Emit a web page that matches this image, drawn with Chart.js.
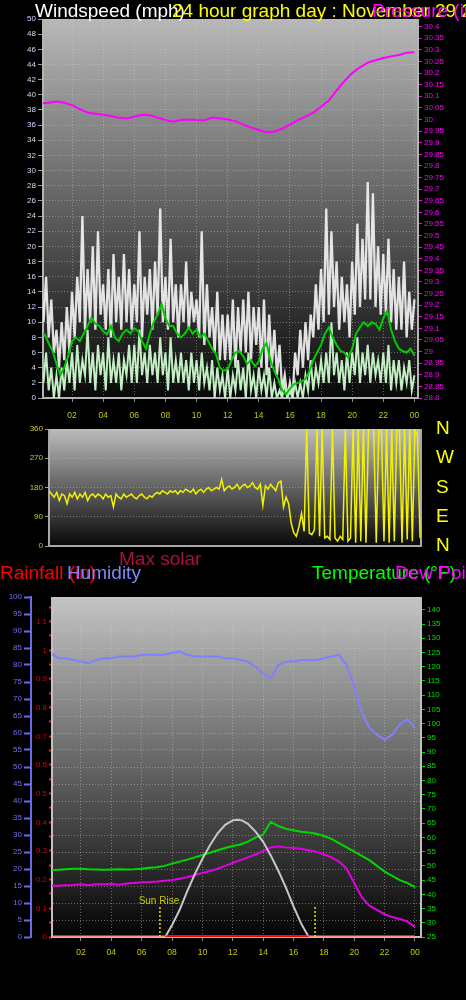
<!DOCTYPE html>
<html>
<head>
<meta charset="utf-8">
<script src="https://cdn.jsdelivr.net/npm/chart.js@4.4.1/dist/chart.umd.min.js"></script>
<style>
    body
    {
        margin: 0;
        width: 466px;
        height: 1000px;
        background: #000;
        position: relative;
        overflow: hidden;
        font-family: "Liberation Sans", Arial, sans-serif;
    }
    canvas { position: absolute; left: 0; }
    .title
    {
        position: absolute;
        font-size: 19px;
        line-height: 19px;
        white-space: nowrap;
    }
</style>
</head>
<body>
<canvas id="windChart" width="466" height="430" style="top:0px"></canvas>
<canvas id="dirChart" width="466" height="140" style="top:420px"></canvas>
<canvas id="climateChart" width="466" height="410" style="top:560px"></canvas>

<div class="title" style="left:35px; top:1px; color:#ffffff">Windspeed (mph)</div>
<div class="title" style="left:172px; top:1px; color:#ffff00">24 hour graph day : November 29 2012</div>
<div class="title" style="left:372px; top:1px; color:#ff00ff">Pressure (inHg)</div>
<div class="title" style="left:119px; top:549px; color:#a8103e">Max solar</div>
<div class="title" style="left:0px; top:563px; color:#ff0000">Rainfall (in)</div>
<div class="title" style="left:67px; top:563px; color:#8484ff">Humidity</div>
<div class="title" style="left:312px; top:563px; color:#00ff00">Temperature (°F)</div>
<div class="title" style="left:395px; top:563px; color:#ff00ff">Dew Point (°F)</div>

<script>
// ---- data ----

// x axis labels (hours), 24 is shown as 00
const hourTicks = [2, 4, 6, 8, 10, 12, 14, 16, 18, 20, 22, 24];

// wind gust, every 10 minutes from 00:00
const gustMph =
[
    15, 10, 16, 8, 13, 6,
    9, 4, 10, 5, 12, 6,
    14, 8, 16, 10, 24, 9,
    17, 10, 20, 9, 22, 11,
    15, 9, 17, 8, 19, 10,
    16, 9, 19, 10, 17, 9,
    15, 10, 22, 8, 16, 11,
    17, 9, 18, 11, 25, 10,
    16, 9, 21, 10, 15, 8,
    15, 10, 18, 9, 14, 10,
    13, 8, 22, 7, 15, 8,
    12, 6, 14, 5, 11, 5,
    11, 5, 13, 4, 12, 6,
    13, 6, 14, 5, 12, 7,
    12, 4, 13, 3, 11, 4,
    9, 3, 7, 1, 3, 0,
    2, 0, 6, 3, 9, 4,
    10, 5, 11, 8, 15, 9,
    17, 10, 25, 11, 22, 12,
    18, 9, 16, 10, 15, 8,
    18, 11, 23, 12, 21, 13,
    28.5, 13, 27, 12, 20, 11,
    19, 11, 21, 10, 17, 9,
    16, 9, 18, 8, 14, 9,
    13
];

// wind speed, every 10 minutes
const speedMph =
[
    5, 2, 6, 1, 4, 0,
    3, 0, 4, 1, 5, 2,
    6, 1, 7, 2, 5, 3,
    9, 2, 6, 1, 7, 3,
    6, 1, 8, 2, 5, 2,
    6, 1, 5, 3, 7, 2,
    7, 2, 9, 3, 6, 2,
    7, 3, 6, 2, 8, 3,
    6, 1, 8, 2, 5, 2,
    6, 2, 5, 1, 6, 2,
    5, 1, 6, 2, 4, 1,
    5, 0, 4, 1, 3, 0,
    4, 0, 3, 1, 5, 1,
    4, 0, 6, 1, 3, 0,
    4, 1, 3, 0, 4, 0,
    2, 0, 1, 0, 2, 0,
    1, 0, 2, 0, 2, 0,
    3, 1, 5, 1, 4, 2,
    5, 2, 6, 2, 10, 3,
    6, 2, 5, 1, 6, 2,
    6, 3, 8, 2, 6, 3,
    7, 2, 6, 3, 5, 2,
    6, 2, 7, 1, 5, 2,
    5, 1, 4, 2, 5, 1,
    3
];

// average wind, every 15 minutes
const avgMph =
[
    8.5, 8.4, 7.2, 6.2,
    4.5, 3.0, 4.0, 5.5,
    7.5, 8.0, 7.5, 8.5,
    9.5, 10.6, 9.8, 9.5,
    8.8, 8.4, 9.5, 8.0,
    7.5, 8.5, 9.0, 8.5,
    9.2, 8.8, 7.5, 6.5,
    8.5, 10.0, 11.0, 12.4,
    10.5, 9.5, 9.5, 8.5,
    8.0, 8.5, 9.3, 8.5,
    9.0, 8.0, 8.5, 7.5,
    6.5, 5.8, 4.0, 3.6,
    3.8, 5.0, 6.0, 6.2,
    5.5, 4.5, 5.0, 4.2,
    4.8, 6.5, 7.2, 5.0,
    3.5, 2.5, 1.0, 0.5,
    1.2, 1.8, 2.0, 2.2,
    2.5, 3.5, 5.0, 6.0,
    7.0, 8.5, 9.3, 8.0,
    7.0, 6.2, 6.0, 5.3,
    6.5, 8.5, 9.3, 10.0,
    9.5, 10.0, 9.8, 9.0,
    10.5, 11.5, 9.0, 7.5,
    6.5, 6.2, 6.0, 6.5,
    5.6
];

// barometer, every 30 minutes
const pressureInHg =
[
    30.07, 30.072, 30.078, 30.072, 30.062, 30.045, 30.03, 30.025,
    30.02, 30.015, 30.008, 30.004, 30.012, 30.02, 30.018, 30.008,
    29.998, 29.99, 29.998, 30.0, 29.998, 29.997, 30.008, 30.005,
    30.0, 29.993, 29.978, 29.966, 29.955, 29.945, 29.948, 29.96,
    29.978, 29.997, 30.012, 30.03, 30.055, 30.082, 30.125, 30.165,
    30.2, 30.225, 30.245, 30.255, 30.265, 30.272, 30.278, 30.288,
    30.29
];

// wind direction, every 10 minutes
const windDirDeg =
[
    170, 160, 150, 165, 140, 160,
    155, 130, 160, 150, 165, 145,
    160, 150, 165, 140, 155, 160,
    150, 160, 155, 145, 160, 150,
    155, 120, 160, 150, 145, 160,
    150, 155, 160, 150, 145, 155,
    160, 150, 145, 155, 150, 160,
    165, 160, 170, 165, 160, 170,
    165, 170, 160, 170, 165, 175,
    170, 165, 175, 160, 170, 175,
    165, 175, 180, 170, 175, 180,
    175, 205, 170, 180, 185, 175,
    180, 190, 175, 185, 190, 180,
    185, 195, 180, 175, 190, 125,
    185, 175, 190, 180, 170, 195,
    200, 120, 150, 130, 70, 40,
    30, 60, 100, 45, 360, 40,
    35, 50, 360, 30, 360, 25,
    30, 20, 360, 25, 15, 30,
    20, 360, 15, 25, 360, 10,
    360, 15, 360, 10, 360, 360,
    360, 10, 360, 360, 15, 360,
    10, 360, 15, 360, 360, 10,
    360, 20, 360, 15, 360, 340,
    25
];
const dirTickDeg = [0, 90, 180, 270, 360];
const dirTickLabels = ['N', 'E', 'S', 'W', 'N'];

// lower panel, every 30 minutes
const humidityPct =
[
    83.5, 82, 82, 81.5, 81, 80.5, 81.5, 82,
    82, 82.5, 82.5, 82.5, 83, 83, 83, 83,
    83.5, 84, 83, 82.5, 82.5, 82.5, 82.5, 82,
    82, 81.5, 81, 79.5, 77.5, 76, 80, 81,
    81, 81.5, 81.5, 81.5, 82, 82.5, 83, 80,
    74, 66, 61.5, 59.5, 58, 59.5, 62.5, 64,
    61.5
];
const temperatureF =
[
    48.5, 48.6, 48.8, 49, 49, 48.8, 48.7, 48.6,
    48.7, 48.8, 48.7, 48.8, 49, 49.3, 49.5, 50,
    50.8, 51.5, 52.2, 53, 53.8, 54.6, 55.5, 56.3,
    57, 57.5, 58.5, 60, 61, 65.5, 64, 63,
    62.5, 62, 61.7, 61.3, 60.5, 59.5, 58, 56.5,
    55, 53.5, 52, 50, 48, 46.5, 45, 44,
    42.5
];
const dewPointF =
[
    43, 43, 43.2, 43.3, 43.5, 43.2, 43.5, 43.5,
    43.6, 43.4, 43.8, 44, 44.2, 44.3, 44.5, 44.8,
    45, 45.5, 46, 46.8, 47.5, 48.2, 49, 50,
    51, 52, 53, 54, 55.2, 56.5, 56.8, 56.5,
    56.3, 56, 55.5, 55, 54, 53, 51.5, 49,
    44, 39, 36, 34.5, 33, 32, 31.3, 30.5,
    28.5
];
// hourly rainfall
const rainfallIn = [0, 0, 0, 0, 0, 0, 0, 0, 0, 0, 0, 0, 0, 0, 0, 0, 0, 0, 0, 0, 0, 0, 0, 0, 0];

// max solar curve (plotted on the humidity scale)
const solarHours = [7.55, 8, 8.5, 9, 9.5, 10, 10.5, 11, 11.5, 12, 12.3, 12.6, 13, 13.5, 14, 14.5, 15, 15.5, 16, 16.5, 17];
const solarLevel = [0, 3.5, 8, 13.5, 18.5, 23, 27, 30.5, 33, 34.3, 34.5, 34.3, 33.3, 31, 28, 24, 19.5, 14.5, 9, 4, 0];
// measured solar, flat at zero through daylight
const measuredSolarHours = [7.55, 17];
const measuredSolar = [0, 0];

const sunRiseSetHours = [7.2, 17.42];
const sunMarkerTop = 9;

// ---- helpers ----
const F = '"Liberation Sans", Arial, sans-serif';
const gridDot = 'rgba(205,205,205,0.45)';

function series(values, startHour, stepHours)
{
    return values.map((v, i) => ({ x: startHour + i * stepHours, y: v }));
}

function pairs(hours, values)
{
    return hours.map((h, i) => ({ x: h, y: values[i] }));
}

function hourLabel(v)
{
    let h = Math.round(v) % 24;
    return h < 10 ? '0' + h : '' + h;
}

function stepList(from, to, step)
{
    let out = [];
    for (let k = Math.round(from / step); k <= Math.round(to / step); k++)
    {
        out.push(+(k * step).toFixed(3));
    }
    return out;
}

function fixedTicks(values)
{
    return function(scale)
    {
        scale.ticks = values.map(v => ({ value: v }));
    };
}

// fix a scale's size and drop the label overhang padding so the plot lands where it should
function fitWidth(w)
{
    return function(s)
    {
        s.width = w;
        s.paddingTop = 0;
        s.paddingBottom = 0;
    };
}

function fitHeight(h)
{
    return function(s)
    {
        s.height = h;
        s.paddingLeft = 0;
        s.paddingRight = 0;
    };
}

// gradient plot area with light frame
const plotBackground =
{
    id: 'plotBackground',
    beforeDraw(chart, args, opts)
    {
        const a = chart.chartArea;
        const ctx = chart.ctx;
        const g = ctx.createLinearGradient(0, a.top, 0, a.bottom);
        g.addColorStop(0, opts.top);
        g.addColorStop(1, opts.bottom);
        ctx.save();
        ctx.fillStyle = g;
        ctx.fillRect(a.left, a.top, a.right - a.left, a.bottom - a.top);
        ctx.restore();
    },
    beforeDatasetsDraw(chart, args, opts)
    {
        const a = chart.chartArea;
        const ctx = chart.ctx;
        ctx.save();
        ctx.strokeStyle = opts.frame;
        ctx.lineWidth = 2;
        ctx.beginPath();
        ctx.moveTo(a.left, a.top);
        ctx.lineTo(a.left, a.bottom);
        ctx.lineTo(a.right, a.bottom);
        ctx.lineTo(a.right, a.top);
        ctx.stroke();
        ctx.restore();
    }
};

const sunLabel =
{
    id: 'sunLabel',
    afterDatasetsDraw(chart)
    {
        const ctx = chart.ctx;
        const x = chart.scales.x.getPixelForValue(sunRiseSetHours[0]);
        const y = chart.scales.yHum.getPixelForValue(sunMarkerTop);
        ctx.save();
        ctx.font = '10px ' + F;
        ctx.fillStyle = '#c8c800';
        ctx.textAlign = 'center';
        ctx.textBaseline = 'bottom';
        ctx.fillText('Sun Rise', x - 1, y);
        ctx.restore();
    }
};

const baseOptions =
{
    responsive: false,
    animation: false,
    devicePixelRatio: 1,
    elements: { point: { radius: 0 }, line: { tension: 0 } },
};

// ---- windspeed + pressure ----
new Chart(document.getElementById('windChart'),
{
    type: 'line',
    data:
    {
        datasets:
        [
            { label: 'Pressure', data: series(pressureInHg, 0, 0.5), yAxisID: 'yPress', borderColor: '#ff00ff', borderWidth: 2 },
            { label: 'Average', data: series(avgMph, 0, 0.25), yAxisID: 'ySpeed', borderColor: '#00cc00', borderWidth: 2 },
            { label: 'Speed', data: series(speedMph, 0, 1 / 6), yAxisID: 'ySpeed', borderColor: '#c4eec4', borderWidth: 2 },
            { label: 'Gust', data: series(gustMph, 0, 1 / 6), yAxisID: 'ySpeed', borderColor: 'rgba(242,242,242,0.92)', borderWidth: 2.3 },
        ]
    },
    options: Object.assign({}, baseOptions,
    {
        layout: { padding: { top: 19, left: 0, right: 0, bottom: 0 } },
        plugins:
        {
            legend: { display: false },
            tooltip: { enabled: false },
            plotBackground: { top: '#b8b8b8', bottom: '#080808', frame: '#b4b4b4' }
        },
        scales:
        {
            x:
            {
                type: 'linear', min: 0.135, max: 24.23,
                afterBuildTicks: fixedTicks(hourTicks),
                afterFit: fitHeight(32),
                grid: { color: gridDot, tickColor: '#8a8a8a', tickLength: 4 },
                border: { display: false, dash: [1, 2] },
                ticks: { color: '#c8c800', font: { family: F, size: 8.5 }, padding: 9, maxRotation: 0, autoSkip: false, callback: hourLabel }
            },
            ySpeed:
            {
                position: 'left', min: 0, max: 50,
                afterBuildTicks: fixedTicks(stepList(0, 50, 2)),
                afterFit: fitWidth(43),
                grid: { color: gridDot, tickColor: '#9a9a9a', tickLength: 5 },
                border: { display: false, dash: [1, 2] },
                ticks: { color: '#c8dcff', font: { family: F, size: 8 }, padding: 2, autoSkip: false }
            },
            yPress:
            {
                position: 'right', min: 28.8, max: 30.433,
                afterBuildTicks: fixedTicks(stepList(28.8, 30.4, 0.05)),
                afterFit: fitWidth(48),
                grid: { drawOnChartArea: false, tickColor: '#ff00ff', tickLength: 4 },
                border: { display: false },
                ticks: { color: '#ff00ff', font: { family: F, size: 8 }, padding: 2, autoSkip: false, callback: v => String(+v.toFixed(2)) }
            }
        }
    }),
    plugins: [plotBackground]
});

// ---- wind direction ----
new Chart(document.getElementById('dirChart'),
{
    type: 'line',
    data:
    {
        datasets:
        [
            { label: 'Direction', data: series(windDirDeg, 0, 1 / 6), yAxisID: 'yDir', borderColor: '#f2f200', borderWidth: 1.5 }
        ]
    },
    options: Object.assign({}, baseOptions,
    {
        layout: { padding: { top: 9, left: 0, right: 0, bottom: 0 } },
        plugins:
        {
            legend: { display: false },
            tooltip: { enabled: false },
            plotBackground: { top: '#bcbcbc', bottom: '#080808', frame: '#a8a8a8' }
        },
        scales:
        {
            x:
            {
                type: 'linear', min: 0, max: 24.06,
                afterFit: fitHeight(14),
                grid: { display: false },
                border: { display: false },
                ticks: { display: false }
            },
            yDir:
            {
                position: 'left', min: 0, max: 360,
                afterBuildTicks: fixedTicks(dirTickDeg),
                afterFit: fitWidth(49),
                grid: { color: gridDot, tickColor: '#9a9a9a', tickLength: 4 },
                border: { display: false, dash: [1, 2] },
                ticks: { color: '#c8c832', font: { family: F, size: 8 }, padding: 2, autoSkip: false }
            },
            yCompass:
            {
                position: 'right', min: 0, max: 360,
                afterBuildTicks: fixedTicks(dirTickDeg),
                afterFit: fitWidth(45),
                grid: { drawOnChartArea: false, drawTicks: false },
                border: { display: false },
                ticks: { color: '#ffff00', font: { family: F, size: 19 }, padding: 15, autoSkip: false, callback: v => dirTickLabels[dirTickDeg.indexOf(v)] }
            }
        }
    }),
    plugins: [plotBackground]
});

// ---- rain, humidity, temperature, dew point ----
let sunDatasets = sunRiseSetHours.map(h => (
{
    label: 'Sun', data: [{ x: h, y: 0 }, { x: h, y: sunMarkerTop }], yAxisID: 'yHum',
    borderColor: '#e6e600', borderWidth: 1.5, borderDash: [2, 2]
}));

new Chart(document.getElementById('climateChart'),
{
    type: 'line',
    data:
    {
        datasets: sunDatasets.concat(
        [
            { label: 'Measured solar', data: pairs(measuredSolarHours, measuredSolar), yAxisID: 'yHum', borderColor: '#ff0000', borderWidth: 3 },
            { label: 'Max solar', data: pairs(solarHours, solarLevel), yAxisID: 'yHum', borderColor: '#c8c8c8', borderWidth: 2 },
            { label: 'Temperature', data: series(temperatureF, 0, 0.5), yAxisID: 'yTemp', borderColor: '#00d800', borderWidth: 2 },
            { label: 'Dew Point', data: series(dewPointF, 0, 0.5), yAxisID: 'yTemp', borderColor: '#e000e0', borderWidth: 2 },
            { label: 'Humidity', data: series(humidityPct, 0, 0.5), yAxisID: 'yHum', borderColor: '#8080ff', borderWidth: 2 },
            { label: 'Rainfall', data: series(rainfallIn, 0, 1), yAxisID: 'yRain', borderColor: '#f09090', borderWidth: 3 }
        ])
    },
    options: Object.assign({}, baseOptions,
    {
        layout: { padding: { top: 37, left: 0, right: 0, bottom: 0 } },
        plugins:
        {
            legend: { display: false },
            tooltip: { enabled: false },
            plotBackground: { top: '#c4c4c4', bottom: '#040404', frame: '#c0c0c0' }
        },
        scales:
        {
            x:
            {
                type: 'linear', min: 0.09, max: 24.4,
                afterBuildTicks: fixedTicks(hourTicks),
                afterFit: fitHeight(33),
                grid: { color: gridDot, tickColor: '#8a8a8a', tickLength: 4 },
                border: { display: false, dash: [1, 2] },
                ticks: { color: '#c8c800', font: { family: F, size: 8.5 }, padding: 7, maxRotation: 0, autoSkip: false, callback: hourLabel }
            },
            yHum:
            {
                position: 'left', weight: 1, min: 0, max: 100,
                afterBuildTicks: fixedTicks(stepList(0, 100, 5)),
                afterFit: fitWidth(31),
                grid: { color: gridDot, tickColor: '#6a6ae8', tickLength: 7, tickWidth: 2 },
                border: { display: true, color: '#6a6ae8', width: 2, dash: [1, 2] },
                ticks: { color: '#7070f0', font: { family: F, size: 8 }, padding: 2, autoSkip: false }
            },
            yRain:
            {
                position: 'left', weight: 0, min: 0, max: 1.186,
                afterBuildTicks: fixedTicks(stepList(0, 1.15, 0.05)),
                afterFit: fitWidth(21),
                grid: { drawOnChartArea: false, tickColor: '#dd2020', tickLength: 3, tickWidth: 2 },
                border: { display: false },
                ticks:
                {
                    color: '#dd0000', font: { family: F, size: 8 }, padding: 2, autoSkip: false,
                    callback: v => (Math.round(v * 100) % 10 === 0 ? String(+v.toFixed(2)) : '')
                }
            },
            yTemp:
            {
                position: 'right', min: 25, max: 144.5,
                afterBuildTicks: fixedTicks(stepList(25, 140, 5)),
                afterFit: fitWidth(45),
                grid: { drawOnChartArea: false, tickColor: '#00cc00', tickLength: 4 },
                border: { display: false },
                ticks: { color: '#00dd00', font: { family: F, size: 8 }, padding: 2, autoSkip: false }
            }
        }
    }),
    plugins: [plotBackground, sunLabel]
});
</script>
</body>
</html>
